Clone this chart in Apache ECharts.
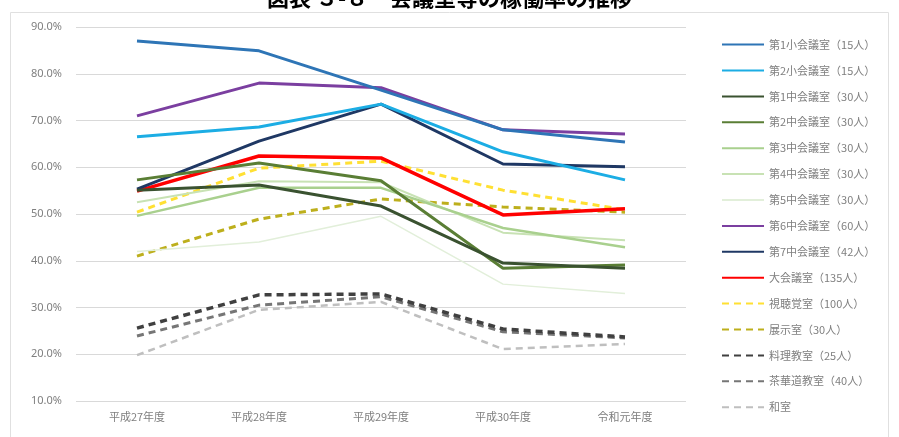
<!DOCTYPE html>
<html><head><meta charset="utf-8">
<script src="https://cdn.jsdelivr.net/npm/echarts@6/dist/echarts.min.js"></script>
<style>html,body{margin:0;padding:0;background:#fff;}#c{width:899px;height:437px;}</style>
</head><body><div id="c"></div>
<script>
const categories = ['平成27年度','平成28年度','平成29年度','平成30年度','令和元年度'];
const yTicks = {min:10, max:90, interval:10};
const names = ['第1小会議室（15人）','第2小会議室（15人）','第1中会議室（30人）','第2中会議室（30人）','第3中会議室（30人）','第4中会議室（30人）','第5中会議室（30人）','第6中会議室（60人）','第7中会議室（42人）','大会議室（135人）','視聴覚室（100人）','展示室（30人）','料理教室（25人）','茶華道教室（40人）','和室'];
const s1 = [87.0, 84.9, 76.5, 68.0, 65.4];
const s2 = [66.5, 68.6, 73.5, 63.3, 57.3];
const s3 = [55.1, 56.2, 51.7, 39.5, 38.4];
const s4 = [57.3, 60.9, 57.1, 38.4, 39.1];
const s5 = [49.6, 55.6, 55.6, 47.0, 42.9];
const s6 = [52.5, 57.0, 56.8, 46.0, 44.4];
const s7 = [42.0, 44.0, 49.5, 35.0, 33.0];
const s8 = [71.0, 78.0, 77.0, 68.0, 67.1];
const s9 = [55.3, 65.6, 73.5, 60.7, 60.1];
const s10 = [54.9, 62.4, 62.0, 49.8, 51.1];
const s11 = [50.4, 59.8, 61.3, 55.1, 50.9];
const s12 = [41.0, 48.9, 53.2, 51.5, 50.4];
const s13 = [25.6, 32.7, 32.9, 25.4, 23.7];
const s14 = [23.9, 30.5, 32.3, 24.8, 23.5];
const s15 = [19.8, 29.5, 31.2, 21.1, 22.2];
const values = [s1,s2,s3,s4,s5,s6,s7,s8,s9,s10,s11,s12,s13,s14,s15];
const colors = ['#2E75B6','#1CADE4','#3A5230','#5A7E35','#A9D08E','#C8E2B4','#E2EFDA','#7B3FA0','#1F3864','#FF0000','#FFE033','#BDAF1C','#404040','#767676','#BFBFBF'];
const widths = [3,3,3,3,2.5,2,1.5,3,3,3.5,3,3,3.5,3,2.5];
const dashed = [0,0,0,0,0,0,0,0,0,0,1,1,1,1,1];

const chart = echarts.init(document.getElementById('c'));
chart.setOption({
  animation:false,
  backgroundColor:'#fff',
  title:{text:'図表 ３-８　会議室等の稼働率の推移', left:'center', top:-18,
    textStyle:{fontSize:22, fontWeight:'bold', color:'#000', fontFamily:'Noto Sans CJK JP'}},
  graphic:[{type:'rect', shape:{x:10.5,y:12.5,width:878,height:430}, style:{fill:'none', stroke:'#e0e0e0', lineWidth:1}, z:-1}],
  grid:{left:76, right:213, top:27, bottom:36},
  legend:{orient:'vertical', left:716, top:34, itemWidth:42, itemHeight:14, itemGap:14.7,
    itemStyle:{opacity:0},
    textStyle:{fontSize:11, color:'#7f7f7f', fontFamily:'Noto Sans CJK JP'},
    data:names},
  xAxis:{type:'category', data:categories, boundaryGap:true,
    axisLine:{show:false}, axisTick:{show:false},
    axisLabel:{color:'#7f7f7f', fontSize:11, margin:10, fontFamily:'Noto Sans CJK JP'}},
  yAxis:{type:'value', min:yTicks.min, max:yTicks.max, interval:yTicks.interval,
    axisLine:{show:false}, axisTick:{show:false},
    axisLabel:{color:'#7f7f7f', fontSize:11, margin:14, formatter:v=>v.toFixed(1)+'%', fontFamily:'Noto Sans'},
    splitLine:{lineStyle:{color:'#d9d9d9', width:1}}},
  series: names.map((n,i)=>({
    name:n, type:'line', data:values[i], symbol:'none', z: 20-i,
    itemStyle:{color:colors[i]},
    lineStyle:{color:colors[i], width:widths[i], type: dashed[i] ? [7,5] : 'solid'}
  }))
});
</script></body></html>
